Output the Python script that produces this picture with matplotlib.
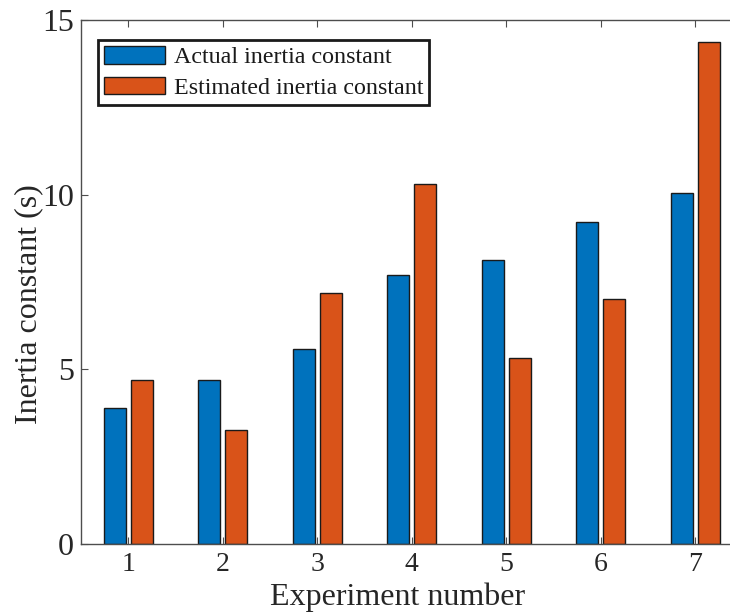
import numpy as np
import matplotlib
matplotlib.use("Agg")
import matplotlib.pyplot as plt
from matplotlib.ticker import FixedLocator

# Inertia constants per experiment (seconds)
experiments = [1, 2, 3, 4, 5, 6, 7]
actual_h = [3.90, 4.69, 5.57, 7.70, 8.14, 9.23, 10.04]
estimated_h = [4.69, 3.26, 7.18, 10.30, 5.33, 7.00, 14.36]
y_ticks = [0, 5, 10, 15]

series_labels = ["Actual inertia constant", "Estimated inertia constant"]
colors = ["#0072BD", "#D95319"]

plt.rcParams["font.family"] = ["Liberation Serif", "DejaVu Serif"]

fig = plt.figure(figsize=(7.30, 6.12), dpi=100)
ax = fig.add_axes([81 / 730, 68 / 612, 661.5 / 730, 524 / 612])

x = np.array(experiments, dtype=float)
width = 0.233
offset = 0.143
ax.bar(x - offset, actual_h, width, color=colors[0], edgecolor="#1a1a1a",
       linewidth=1.0, label=series_labels[0])
ax.bar(x + offset, estimated_h, width, color=colors[1], edgecolor="#1a1a1a",
       linewidth=1.0, label=series_labels[1])

ax.set_xlim(0.5, 7.5)
ax.set_ylim(0, 15)
ax.xaxis.set_major_locator(FixedLocator(experiments))
ax.yaxis.set_major_locator(FixedLocator(y_ticks))
ax.set_xticklabels([str(e) for e in experiments])
ax.set_yticklabels([str(t) for t in y_ticks])

for side in ["left", "bottom", "top", "right"]:
    ax.spines[side].set_color("#4d4d4d")
    ax.spines[side].set_linewidth(1.0)

ax.tick_params(axis="both", which="major", direction="in", length=5,
               width=0.8, color="#4d4d4d", labelcolor="#262626",
               top=True, right=True)
ax.tick_params(axis="x", labelsize=20, pad=6)
ax.tick_params(axis="y", labelsize=23, pad=5)

ax.set_xlabel("Experiment number", fontsize=23, color="#262626")
ax.set_ylabel("Inertia constant (s)", fontsize=23, color="#262626")
ax.xaxis.set_label_coords(0.478, -0.073)
ax.yaxis.set_label_coords(-0.057, 0.458)

leg = ax.legend(loc="upper left", bbox_to_anchor=(17 / 661.5, 1 - 20 / 524),
                fontsize=17.3, frameon=True, fancybox=False,
                handlelength=2.55, handleheight=0.75, handletextpad=0.35,
                labelspacing=0.35, borderpad=0.25, borderaxespad=0.0)
leg.get_frame().set_edgecolor("#1a1a1a")
leg.get_frame().set_linewidth(2.0)
leg.get_frame().set_alpha(1.0)
for t in leg.get_texts():
    t.set_color("#1a1a1a")

fig.savefig("out.png", dpi=100)
